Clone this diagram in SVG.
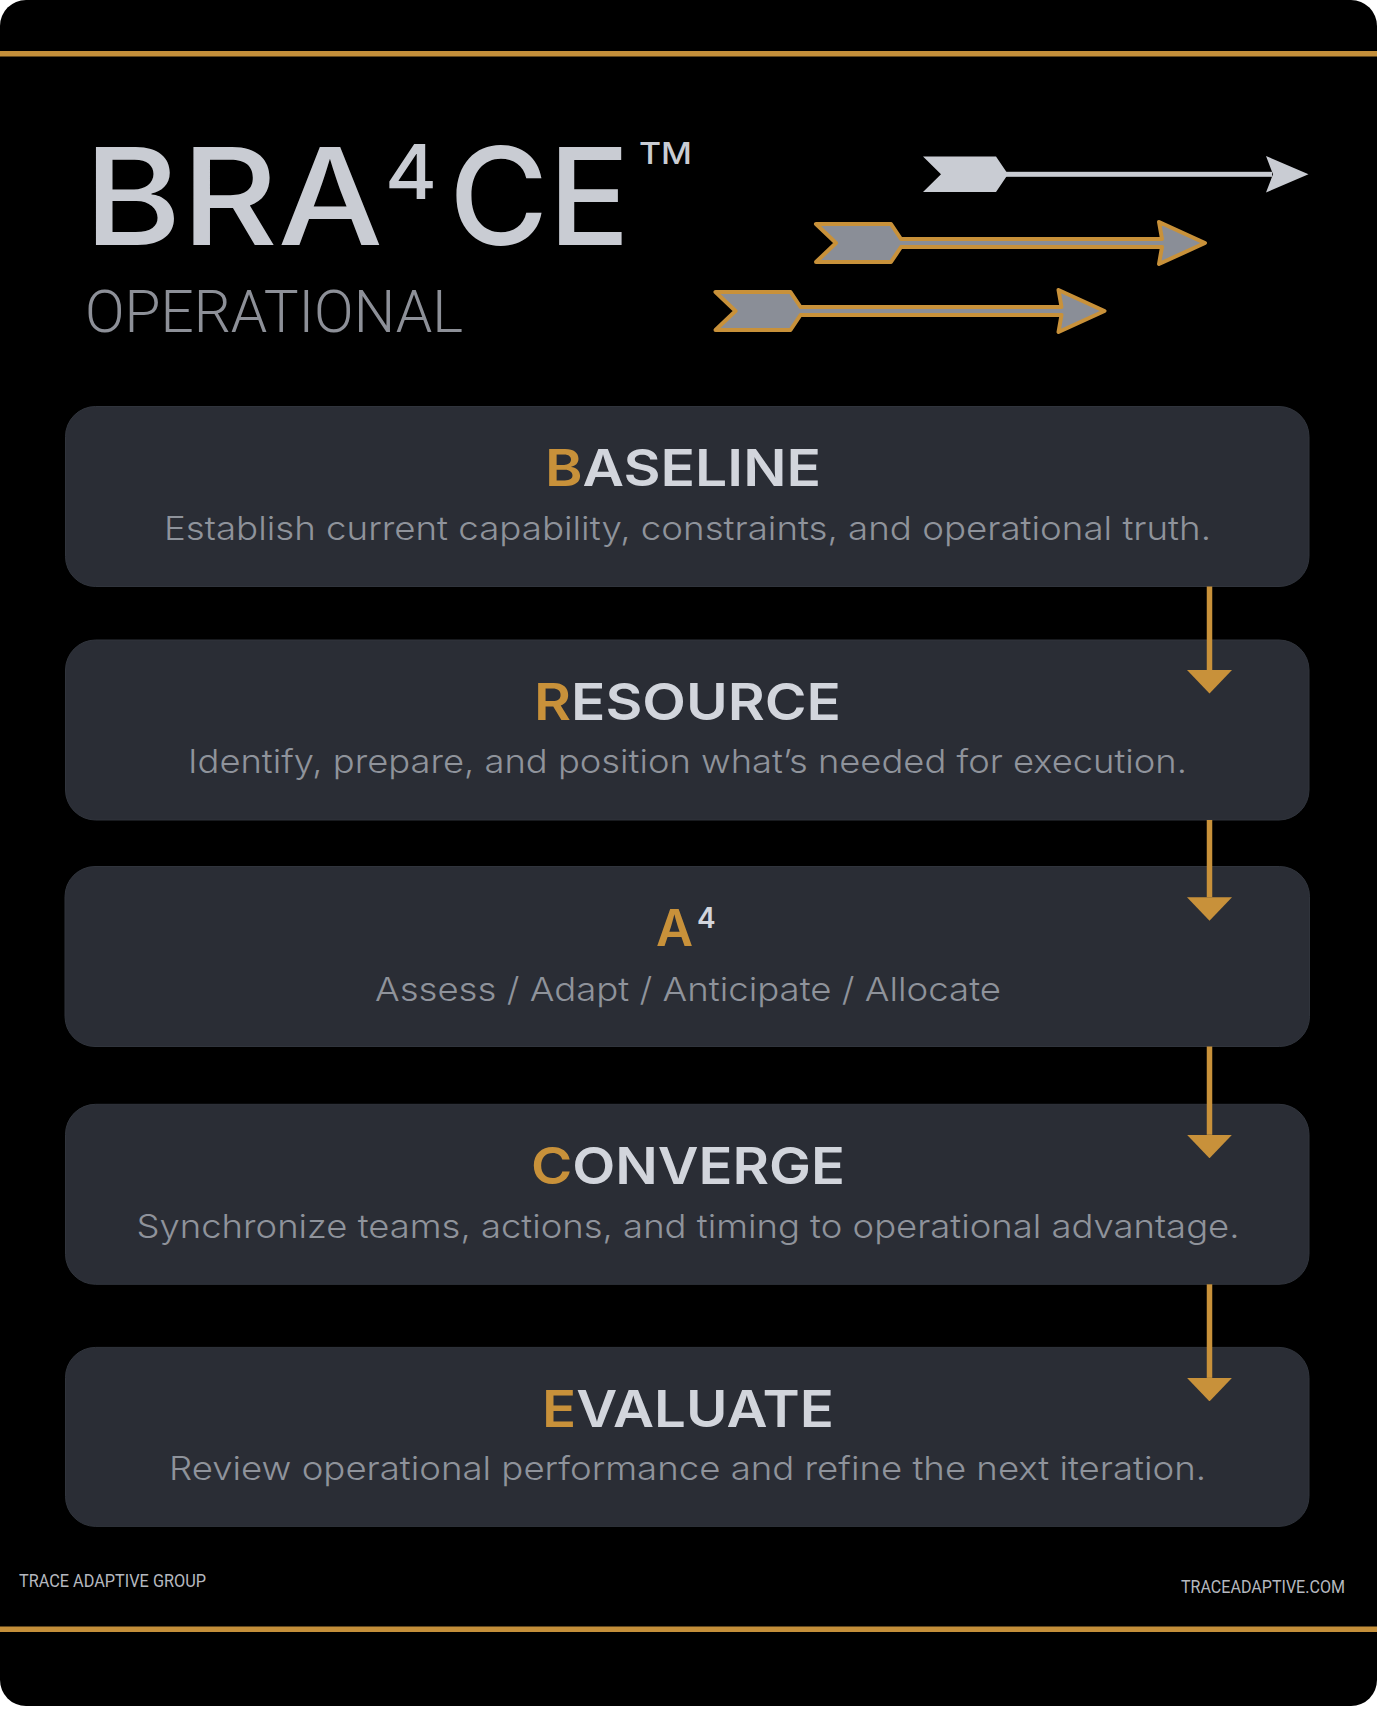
<svg xmlns="http://www.w3.org/2000/svg" width="1379" height="1709" viewBox="0 0 1379 1709">
  <defs>
    <style>
      .gold-line { fill: #c48f3a; }
      .card { fill: #2a2d35; stroke: #30343c; stroke-width: 1; }
      .head { font-family: Inter, "Open Sans", sans-serif; font-weight: 600; font-size: 51px; fill: #d2d5dc; }
      .first { fill: #c8913a; }
      .desc { font-family: Inter, "Noto Sans", sans-serif; font-weight: 300; font-size: 33px; fill: #8f939b; }
      .title { font-family: Inter, "Open Sans", sans-serif; font-weight: 500; fill: #c9ccd3; }
      .sub { font-family: Roboto, "Liberation Sans", sans-serif; font-weight: 300; font-size: 59px; fill: #8d9098; }
      .foot { font-family: Roboto, "Liberation Sans", sans-serif; font-weight: 400; font-size: 18px; fill: #b5b8bf; }
      .conn { stroke: #c8913a; stroke-width: 5.5; fill: none; }
      .arrow-gold { fill: #8a8e97; stroke: #c8913a; stroke-width: 4; stroke-linejoin: round; }
      .arrow-light { fill: #c9ccd3; }
    </style>
    <marker id="ah" markerUnits="userSpaceOnUse" viewBox="0 0 23.5 45" markerWidth="23.5" markerHeight="45" refX="0" refY="22.5" orient="auto">
      <polygon points="0,0 23.5,22.5 0,45" fill="#c8913a"/>
    </marker>
    <path id="goldArrow" d="M816,224 L891,224 L901,239 L1162,239 L1159,222 L1205,243 L1159,264 L1162,247 L901,247 L891,262 L816,262 L836,243 Z"/>
  </defs>

  <rect x="0" y="0" width="1379" height="1709" fill="#ffffff"/>
  <rect x="0" y="0" width="1377" height="1706" rx="26" ry="26" fill="#000000"/>
  <rect class="gold-line" x="0" y="51" width="1377" height="5.5"/>
  <rect class="gold-line" x="0" y="1626.5" width="1377" height="5.5"/>

  <g id="title">
    <text class="title" y="245">
      <tspan x="84" font-size="135" textLength="299" lengthAdjust="spacingAndGlyphs">BRA</tspan>
      <tspan x="385" y="199" font-size="76" textLength="52" lengthAdjust="spacingAndGlyphs">4</tspan>
      <tspan x="449" y="245" font-size="135" textLength="181" lengthAdjust="spacingAndGlyphs">CE</tspan>
      <tspan x="639" y="164" font-size="30" textLength="53" lengthAdjust="spacingAndGlyphs">TM</tspan>
    </text>
    <text class="sub" x="85" y="332" textLength="378" lengthAdjust="spacingAndGlyphs">OPERATIONAL</text>
  </g>

  <g id="title-arrows">
    <g id="arrow-light">
      <polygon class="arrow-light" points="923,156.5 996,156.5 1008,174.3 996,192 923,192 941,174.3"/>
      <rect class="arrow-light" x="1006" y="171.8" width="266" height="5"/>
      <polygon class="arrow-light" points="1266,156 1308.5,174.3 1266,192.5 1273,174.3"/>
    </g>
    <g id="arrow-gold-1">
      <use href="#goldArrow" class="arrow-gold"/>
    </g>
    <g id="arrow-gold-2">
      <use href="#goldArrow" class="arrow-gold" transform="translate(-100.5,68)"/>
    </g>
  </g>

  <g id="node-baseline">
    <rect class="card" x="65.5" y="406.5" width="1243.5" height="180" rx="30"/>
    <text class="head" x="545" y="486" textLength="276" lengthAdjust="spacingAndGlyphs"><tspan class="first">B</tspan>ASELINE</text>
    <text class="desc" x="164" y="540" textLength="1047" lengthAdjust="spacingAndGlyphs">Establish current capability, constraints, and operational truth.</text>
  </g>

  <g id="node-resource">
    <rect class="card" x="65.5" y="640" width="1243.5" height="180" rx="30"/>
    <text class="head" x="534" y="720" textLength="307" lengthAdjust="spacingAndGlyphs"><tspan class="first">R</tspan>ESOURCE</text>
    <text class="desc" x="188" y="773" textLength="999" lengthAdjust="spacingAndGlyphs">Identify, prepare, and position what’s needed for execution.</text>
  </g>

  <g id="node-a4">
    <rect class="card" x="65" y="866.5" width="1244.5" height="180" rx="30"/>
    <text class="head" x="656" y="946"><tspan class="first">A</tspan><tspan x="697" y="928" font-size="28">4</tspan></text>
    <text class="desc" x="375" y="1000.5" textLength="626" lengthAdjust="spacingAndGlyphs">Assess / Adapt / Anticipate / Allocate</text>
  </g>

  <g id="node-converge">
    <rect class="card" x="65.5" y="1104.3" width="1243.5" height="180" rx="30"/>
    <text class="head" x="531" y="1183.5" textLength="314" lengthAdjust="spacingAndGlyphs"><tspan class="first">C</tspan>ONVERGE</text>
    <text class="desc" x="136.5" y="1237.5" textLength="1103" lengthAdjust="spacingAndGlyphs">Synchronize teams, actions, and timing to operational advantage.</text>
  </g>

  <g id="node-evaluate">
    <rect class="card" x="65.5" y="1347.4" width="1243.5" height="179" rx="30"/>
    <text class="head" x="542" y="1426.5" textLength="292" lengthAdjust="spacingAndGlyphs"><tspan class="first">E</tspan>VALUATE</text>
    <text class="desc" x="169" y="1479.5" textLength="1037" lengthAdjust="spacingAndGlyphs">Review operational performance and refine the next iteration.</text>
  </g>

  <g id="connectors">
    <line class="conn" x1="1209.5" y1="586.5" x2="1209.5" y2="670" marker-end="url(#ah)"/>
    <line class="conn" x1="1209.5" y1="820" x2="1209.5" y2="897.2" marker-end="url(#ah)"/>
    <line class="conn" x1="1209.5" y1="1046.5" x2="1209.5" y2="1134.8" marker-end="url(#ah)"/>
    <line class="conn" x1="1209.5" y1="1284.3" x2="1209.5" y2="1377.9" marker-end="url(#ah)"/>
  </g>

  <g id="footer">
    <text class="foot" x="19" y="1587" textLength="187" lengthAdjust="spacingAndGlyphs">TRACE ADAPTIVE GROUP</text>
    <text class="foot" x="1181" y="1592.5" textLength="164" lengthAdjust="spacingAndGlyphs">TRACEADAPTIVE.COM</text>
  </g>
</svg>
